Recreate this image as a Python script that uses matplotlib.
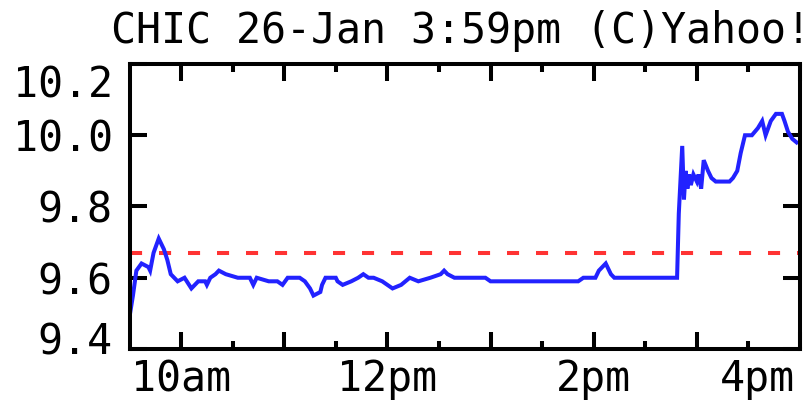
import matplotlib
matplotlib.use("Agg")
import matplotlib.pyplot as plt
from matplotlib.transforms import ScaledTranslation

plt.rcParams['font.family'] = ['DejaVu Sans Mono']

# minutes after 9:30am and last trade price
mins = [0, 2, 4, 7, 11, 12, 14, 17, 20, 22, 24, 28, 32, 36, 40, 44, 45, 47, 50, 52,
        56, 63, 70, 72, 74, 81, 86, 89, 92, 99, 102, 105, 107, 111, 112, 114, 120, 121,
        124, 129, 133, 136, 139, 142, 147, 153, 158, 163, 168, 175, 181, 183, 185, 189,
        207, 210, 261, 264, 271, 273, 277, 280, 282, 318.5, 319.5, 321.5, 322.5, 323.5,
        324.5, 325.5, 326.5, 328, 330, 331, 332.5, 334, 336.5, 338.5, 341, 349, 351,
        353.5, 355.5, 358, 362, 365.5, 368, 370, 373, 376, 379.5, 381, 383, 385.5, 388]
price = [9.49, 9.55, 9.62, 9.64, 9.63, 9.62, 9.67, 9.71, 9.68, 9.65, 9.61, 9.59, 9.60,
         9.57, 9.59, 9.59, 9.58, 9.60, 9.61, 9.62, 9.61, 9.60, 9.60, 9.58, 9.60, 9.59,
         9.59, 9.58, 9.60, 9.60, 9.59, 9.57, 9.55, 9.56, 9.58, 9.60, 9.60, 9.59, 9.58,
         9.59, 9.60, 9.61, 9.60, 9.60, 9.59, 9.57, 9.58, 9.60, 9.59, 9.60, 9.61, 9.62,
         9.61, 9.60, 9.60, 9.59, 9.59, 9.60, 9.60, 9.62, 9.64, 9.61, 9.60, 9.60, 9.78,
         9.97, 9.82, 9.90, 9.85, 9.89, 9.86, 9.89, 9.87, 9.89, 9.85, 9.93, 9.90, 9.88,
         9.87, 9.87, 9.88, 9.90, 9.95, 10.00, 10.00, 10.02, 10.04, 10.00, 10.04, 10.06,
         10.06, 10.04, 10.01, 9.99, 9.98]
prev_close = 9.67

hour_ticks = [30, 90, 150, 210, 270, 330, 390]
hour_labels = ["10am", "", "12pm", "", "2pm", "", "4pm"]
half_ticks = [60, 120, 180, 240, 300, 360]
y_ticks = [9.4, 9.6, 9.8, 10.0, 10.2]
y_labels = ["9.4", "9.6", "9.8", "10.0", "10.2"]
title = "CHIC 26-Jan 3:59pm (C)Yahoo!"

W, H = 812, 401
fig = plt.figure(figsize=(W / 100, H / 100), dpi=100)
ax = fig.add_axes([129.5 / W, 52 / H, 670.5 / W, 285 / H])

ax.axhline(prev_close, color='#ff3333', lw=2.9, dashes=(3, 4.2))
ax.plot(mins, price, color='#2222ff', lw=2.9, solid_joinstyle='miter')

ax.set_xlim(0, 390)
ax.set_ylim(9.4, 10.2)
ax.set_xticks(hour_ticks)
ax.set_xticklabels(hour_labels)
ax.set_xticks(half_ticks, minor=True)
ax.set_yticks(y_ticks)
ax.set_yticklabels(y_labels)

for s in ax.spines.values():
    s.set_linewidth(2.9)
ax.tick_params(which='both', direction='in', top=True, right=True, width=2.9,
               labelsize=30, colors='black')
ax.tick_params(which='major', length=12.2)
ax.tick_params(which='minor', length=5.8)
ax.tick_params(axis='y', pad=12)
ax.tick_params(axis='x', pad=6.5)

fig.text(111 / W, 1 - 43 / H, title, fontsize=30, ha='left', va='baseline')

fig.canvas.draw()
yt = ax.yaxis.get_major_ticks()
yt[-1].label1.set_transform(yt[-1].label1.get_transform() +
                            ScaledTranslation(0, -0.17, fig.dpi_scale_trans))
yt[0].label1.set_transform(yt[0].label1.get_transform() +
                           ScaledTranslation(0, 0.11, fig.dpi_scale_trans))
xt = ax.xaxis.get_major_ticks()
xt[-1].label1.set_transform(xt[-1].label1.get_transform() +
                            ScaledTranslation(-0.43, 0, fig.dpi_scale_trans))

fig.savefig("out.png", dpi=100)
